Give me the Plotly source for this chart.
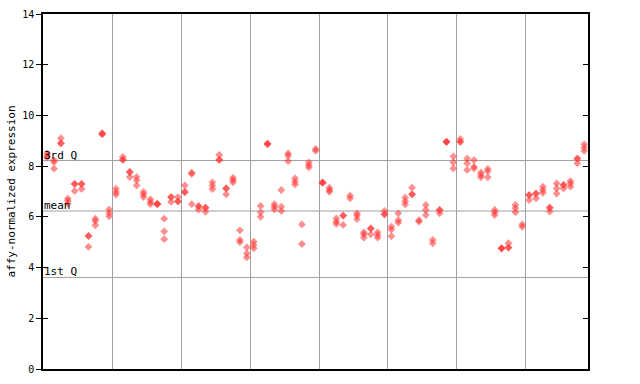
import plotly.graph_objects as go

# replicate values per sample (79 samples)
rep_a = [8.5, 8.23, 9.1, 6.72, 7.3, 7.3, 5.25, 5.93, 9.3, 6.29,
         7.11, 8.36, 7.77, 7.57, 6.98, 6.69, 6.52, 5.93, 6.78, 6.78,
         7.24, 7.74, 6.42, 6.36, 7.36, 8.44, 7.12, 7.54, 5.47, 4.8,
         5.02, 6.43, 8.89, 6.5, 7.06, 8.5, 7.52, 5.7, 8.15, 8.68,
         7.36, 7.15, 5.94, 6.05, 6.84, 6.14, 5.39, 5.54, 5.39, 6.23,
         5.61, 6.14, 6.76, 7.15, 5.87, 6.47, 5.09, 6.27, 8.96, 8.38,
         9.07, 8.3, 8.24, 7.75, 7.89, 6.27, 4.76, 4.96, 6.47, 5.7,
         6.86, 6.92, 7.19, 6.36, 7.32, 7.26, 7.41, 8.3, 8.86]
rep_b = [8.4, 8.16, 8.9, 6.63, 7.3, 7.3, 5.25, 5.84, 9.28, 6.15,
         6.98, 8.25, 7.77, 7.44, 6.89, 6.59, 6.5, 5.43, 6.78, 6.61,
         6.98, 7.7, 6.42, 6.36, 7.23, 8.25, 7.12, 7.45, 5.09, 4.56,
         4.89, 6.18, 8.87, 6.4, 6.4, 8.41, 7.39, 4.93, 8.04, 8.6,
         7.34, 7.06, 5.81, 6.05, 6.73, 6.05, 5.31, 5.54, 5.28, 6.1,
         5.5, 5.87, 6.62, 6.89, 5.81, 6.27, 4.96, 6.27, 8.96, 8.15,
         8.96, 8.11, 7.98, 7.65, 7.79, 6.18, 4.76, 4.79, 6.34, 5.61,
         6.86, 6.92, 7.06, 6.36, 7.12, 7.26, 7.32, 8.3, 8.73]
rep_c = [8.35, 7.9, 8.9, 6.52, 7.02, 7.1, 4.82, 5.67, 9.25, 6.02,
         6.88, 8.25, 7.57, 7.24, 6.78, 6.5, 6.5, 5.12, 6.59, 6.61,
         6.98, 6.5, 6.29, 6.2, 7.09, 8.25, 6.89, 7.36, 5.0, 4.4,
         4.76, 6.0, 8.87, 6.3, 6.23, 8.2, 7.28, None, 7.95, None,
         7.35, 6.99, 5.72, 5.68, None, 5.91, 5.18, 5.31, 5.18, 6.1,
         5.24, 5.77, 6.49, 6.89, None, 6.07, None, 6.14, 8.96, 7.91,
         8.96, 7.85, 7.91, 7.56, 7.56, 6.07, 4.76, 4.79, 6.18, None,
         6.66, 6.73, 6.95, 6.21, 6.92, 7.12, 7.19, 8.11, 8.6]

q1_value = 3.61
mean_value = 6.23
q3_value = 8.22
y_ticks = [0, 2, 4, 6, 8, 10, 12, 14]
group_lines = [9.5, 19.5, 29.5, 39.5, 49.5, 59.5, 69.5]

n = len(rep_a)
xs, ys = [], []
for reps in (rep_a, rep_b, rep_c):
    for i, v in enumerate(reps):
        if v is not None:
            xs.append(i)
            ys.append(v)

FONT = "DejaVu Sans Mono"
fig = go.Figure()
fig.add_trace(go.Scatter(
    x=xs, y=ys, mode="markers",
    marker=dict(symbol="diamond", size=6, color="#ff3333", opacity=0.55,
                line=dict(width=0)),
    hoverinfo="skip", showlegend=False))
# helper traces so mirrored inner tick axes render
fig.add_trace(go.Scatter(x=[None], y=[None], yaxis="y2", showlegend=False))
fig.add_trace(go.Scatter(x=[None], y=[None], yaxis="y3", showlegend=False))

for yv in (q1_value, mean_value, q3_value):
    fig.add_shape(type="line", xref="paper", x0=0, x1=1, yref="y", y0=yv, y1=yv,
                  line=dict(color="#a0a0a0", width=1), layer="below")

for txt, yv in (("3rd Q", q3_value), ("mean", mean_value), ("1st Q", q1_value)):
    fig.add_annotation(text=txt, xref="paper", x=0, xanchor="left", yref="y", y=yv,
                       yanchor="bottom", showarrow=False, xshift=-1, yshift=-3,
                       font=dict(family=FONT, size=11, color="#000000"))

fig.update_layout(
    width=640, height=384,
    margin=dict(l=43, r=52, t=14, b=15),
    paper_bgcolor="white", plot_bgcolor="white",
    xaxis=dict(range=[-0.6, n - 0.45], tickvals=group_lines, showticklabels=False,
               ticks="", showgrid=True, gridcolor="#a0a0a0", gridwidth=1,
               zeroline=False, showline=True, linecolor="black", linewidth=1.5,
               mirror=True, automargin=False),
    yaxis=dict(range=[0, 14], tickvals=y_ticks, ticktext=[str(t) for t in y_ticks],
               ticks="outside", ticklen=5, tickcolor="black", showgrid=False,
               zeroline=False, showline=True, linecolor="black", linewidth=1.5,
               mirror=True, automargin=False,
               tickfont=dict(family=FONT, size=10, color="black"),
               title=dict(text="affy-normalized expression", standoff=4,
                          font=dict(family=FONT, size=11, color="black"))),
    yaxis2=dict(range=[0, 14], tickvals=y_ticks, overlaying="y", side="right",
                ticks="inside", ticklen=5, tickcolor="black", showticklabels=False,
                showgrid=False, zeroline=False, showline=False, automargin=False),
    yaxis3=dict(range=[0, 14], tickvals=y_ticks, overlaying="y", side="left",
                ticks="inside", ticklen=5, tickcolor="black", showticklabels=False,
                showgrid=False, zeroline=False, showline=False, automargin=False),
)

fig.write_html("out.html")
